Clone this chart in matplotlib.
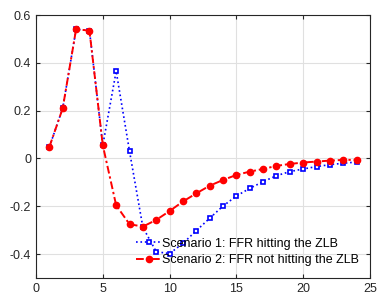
import matplotlib
matplotlib.use("Agg")
import matplotlib.pyplot as plt

# horizon (quarters)
periods = list(range(1, 25))

# Scenario 1: FFR hitting the ZLB
s1 = [0.048, 0.21, 0.54, 0.535, 0.055, 0.365, 0.03, -0.288, -0.39, -0.398,
      -0.355, -0.302, -0.25, -0.199, -0.157, -0.125, -0.097, -0.072,
      -0.055, -0.044, -0.034, -0.026, -0.020, -0.015]

# Scenario 2: FFR not hitting the ZLB
s2 = [0.048, 0.21, 0.54, 0.535, 0.055, -0.196, -0.275, -0.285, -0.257, -0.22,
      -0.18, -0.146, -0.114, -0.09, -0.069, -0.055, -0.044, -0.031,
      -0.023, -0.017, -0.013, -0.009, -0.006, -0.006]

labels = ["Scenario 1: FFR hitting the ZLB", "Scenario 2: FFR not hitting the ZLB"]
xticks = [0, 5, 10, 15, 20, 25]
yticks = [-0.4, -0.2, 0, 0.2, 0.4, 0.6]

plt.rcParams['font.family'] = ['Liberation Sans', 'DejaVu Sans']

fig = plt.figure(figsize=(3.78, 2.99), dpi=100)
ax = fig.add_axes([36 / 378, 1 - 278 / 299, 334 / 378, 263 / 299])

ax.plot(periods, s1, linestyle=':', color='blue', linewidth=1.2, marker='s',
        markersize=3.5, markerfacecolor='white', markeredgecolor='blue',
        markeredgewidth=1.2, label=labels[0])
ax.plot(periods, s2, linestyle=(0, (4, 1.5, 1.2, 1.5)), color='red',
        linewidth=1.4, marker='o', markersize=4.5, markerfacecolor='red',
        markeredgecolor='red', label=labels[1])

ax.set_xlim(0, 25)
ax.set_ylim(-0.5, 0.6)
ax.set_xticks(xticks)
ax.set_yticks(yticks)
ax.set_yticklabels(['-0.4', '-0.2', '0', '0.2', '0.4', '0.6'])
ax.grid(True, color='#e0e0e0', linewidth=0.8)
ax.set_axisbelow(True)
ax.tick_params(direction='in', top=True, right=True, labelsize=9,
               length=3, width=0.8, colors='#262626')
for sp in ax.spines.values():
    sp.set_color('#262626')
    sp.set_linewidth(0.8)

ax.legend(loc='lower left', bbox_to_anchor=(0.3, 0.045), frameon=False,
          fontsize=9, borderpad=0, labelspacing=0.35, handlelength=2.0,
          handletextpad=0.1, borderaxespad=0)

fig.savefig('out.png', dpi=100)
